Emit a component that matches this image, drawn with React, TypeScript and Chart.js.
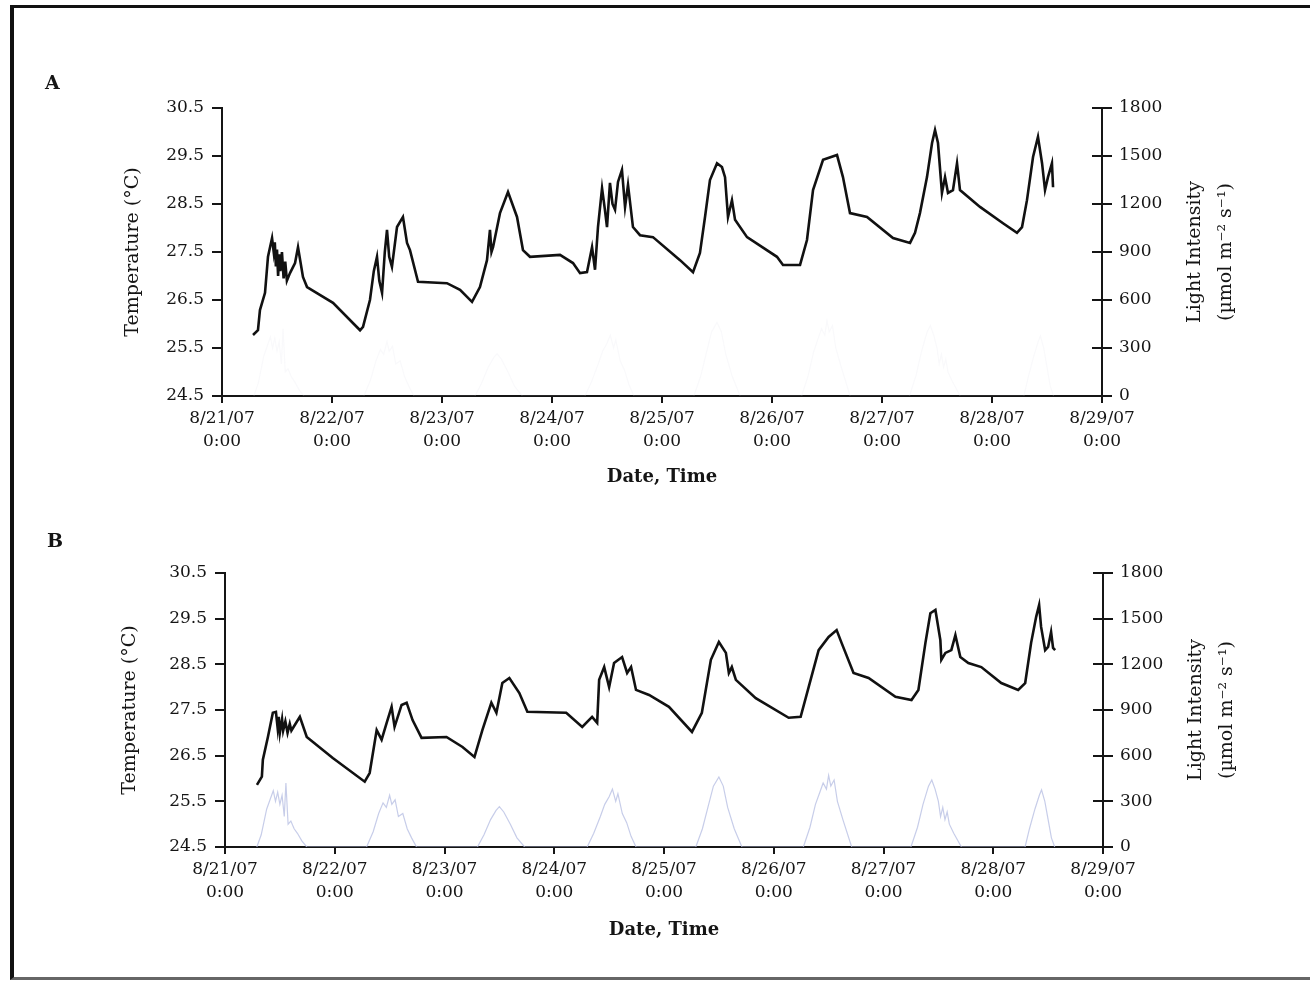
import React, { useEffect, useRef } from "react";
import { Chart, registerables } from "chart.js";

Chart.register(...registerables);

const DATE_LABELS = ["8/21/07", "8/22/07", "8/23/07", "8/24/07", "8/25/07", "8/26/07", "8/27/07", "8/28/07", "8/29/07"];
const TIME_LABEL = "0:00";
const TEMP_TICKS = ["24.5", "25.5", "26.5", "27.5", "28.5", "29.5", "30.5"];
const LIGHT_TICKS = ["0", "300", "600", "900", "1200", "1500", "1800"];
const LEFT_TITLE = "Temperature (°C)";
const RIGHT_TITLE = ["Light Intensity", "(µmol m⁻² s⁻¹)"];
const X_TITLE = "Date, Time";

// days since 8/21/07 0:00
const A_TIME = [
  0.282, 0.327, 0.345, 0.391, 0.418, 0.455, 0.47, 0.48, 0.49, 0.5, 0.51, 0.52, 0.53, 0.545, 0.56, 0.575, 0.59,
  0.618, 0.664, 0.691, 0.736, 0.773, 1.009, 1.255, 1.282, 1.345, 1.38, 1.409, 1.43, 1.455, 1.48, 1.5, 1.52, 1.545, 1.591,
  1.645, 1.682, 1.709, 1.782, 2.045, 2.164, 2.273, 2.345, 2.409, 2.436, 2.45, 2.464, 2.527, 2.6, 2.682, 2.736, 2.8,
  3.073, 3.191, 3.255, 3.318, 3.364, 3.391, 3.418, 3.455, 3.48, 3.5, 3.527, 3.55, 3.573, 3.6, 3.636, 3.664,
  3.691, 3.736, 3.8, 3.918, 4.164, 4.282, 4.345, 4.391, 4.436, 4.5, 4.545, 4.573, 4.6, 4.636, 4.664, 4.773,
  5.045, 5.1, 5.255, 5.318, 5.373, 5.464, 5.591, 5.645, 5.709, 5.864, 6.1, 6.255, 6.3, 6.345, 6.409, 6.455,
  6.482, 6.509, 6.545, 6.573, 6.6, 6.645, 6.682, 6.709, 6.891, 7.1, 7.227, 7.273, 7.318, 7.373, 7.418, 7.455,
  7.482, 7.509, 7.545, 7.555,
];
const A_TEMP = [
  25.77, 25.87, 26.29, 26.65, 27.4, 27.79, 27.5, 27.7, 27.2, 27.55, 27.0, 27.45, 27.1, 27.5, 26.95, 27.3, 26.9,
  27.06, 27.27, 27.6, 26.98, 26.77, 26.44, 25.87, 25.94, 26.5, 27.1, 27.4, 26.9, 26.65, 27.5, 27.96, 27.4, 27.19, 28.02,
  28.23, 27.69, 27.54, 26.88, 26.85, 26.71, 26.46, 26.77, 27.33, 27.96, 27.5, 27.6, 28.31, 28.75, 28.23, 27.54, 27.4,
  27.44, 27.27, 27.06, 27.08, 27.6, 27.13, 28.02, 28.83, 28.4, 28.02, 28.94, 28.5, 28.38, 28.96, 29.21, 28.44,
  28.9, 28.02, 27.85, 27.81, 27.33, 27.08, 27.48, 28.23, 29.0, 29.35, 29.27, 29.06, 28.23, 28.58, 28.17, 27.81,
  27.4, 27.23, 27.23, 27.75, 28.79, 29.42, 29.52, 29.06, 28.31, 28.23, 27.79, 27.69, 27.9, 28.31, 29.06, 29.77,
  30.04, 29.77, 28.73, 29.06, 28.73, 28.79, 29.35, 28.79, 28.44, 28.1, 27.9, 28.02, 28.58, 29.48, 29.9, 29.35,
  28.79, 29.06, 29.35, 28.85,
];

const B_TIME = [
  0.291, 0.336, 0.345, 0.391, 0.436, 0.464, 0.48, 0.49, 0.5, 0.52, 0.53, 0.55, 0.57, 0.59, 0.605, 0.682, 0.745,
  0.982, 1.273, 1.318, 1.382, 1.427, 1.473, 1.518, 1.545, 1.609, 1.655, 1.709, 1.791, 2.018, 2.164, 2.273,
  2.345, 2.427, 2.473, 2.527, 2.591, 2.682, 2.755, 3.109, 3.255, 3.345, 3.391, 3.409, 3.455, 3.5, 3.545, 3.618,
  3.664, 3.7, 3.745, 3.864, 4.045, 4.255, 4.345, 4.427, 4.5, 4.564, 4.591, 4.618, 4.655, 4.836, 5.136, 5.245,
  5.318, 5.409, 5.5, 5.573, 5.618, 5.727, 5.864, 6.109, 6.255, 6.318, 6.382, 6.427, 6.473, 6.518, 6.527, 6.564,
  6.618, 6.655, 6.7, 6.773, 6.891, 7.073, 7.227, 7.291, 7.345, 7.391, 7.418, 7.436, 7.473, 7.5, 7.527, 7.545,
  7.564,
];
const B_TEMP = [
  25.86, 26.04, 26.41, 26.91, 27.44, 27.46, 27.1, 27.35, 27.0, 27.3, 27.05, 27.25, 27.0, 27.2, 27.05, 27.35, 26.91,
  26.45, 25.93, 26.12, 27.06, 26.85, 27.22, 27.57, 27.13, 27.61, 27.66, 27.28, 26.89, 26.91, 26.69, 26.47,
  27.06, 27.66, 27.44, 28.09, 28.2, 27.87, 27.46, 27.44, 27.13, 27.35, 27.22, 28.16, 28.44, 28.0, 28.53, 28.66,
  28.31, 28.44, 27.94, 27.83, 27.57, 27.02, 27.44, 28.6, 28.99, 28.75, 28.31, 28.44, 28.16, 27.76, 27.33, 27.35,
  28.0, 28.81, 29.1, 29.25, 28.97, 28.31, 28.2, 27.79, 27.72, 27.94, 28.97, 29.62, 29.69, 29.03, 28.6, 28.75,
  28.81, 29.14, 28.66, 28.53, 28.44, 28.09, 27.94, 28.09, 28.97, 29.54, 29.8, 29.32, 28.81, 28.88, 29.21, 28.86,
  28.81,
];

const LIGHT_TIME = [
  0.29, 0.33, 0.38, 0.42, 0.44, 0.46, 0.48, 0.5, 0.52, 0.54, 0.555, 0.575, 0.6, 0.63, 0.66, 0.7, 0.745,
  1.29, 1.35, 1.4, 1.44, 1.47, 1.5, 1.52, 1.55, 1.58, 1.62, 1.66, 1.7, 1.745,
  2.3, 2.36, 2.42, 2.47, 2.5, 2.54, 2.6, 2.66, 2.73,
  3.3, 3.36, 3.42, 3.46, 3.5, 3.53, 3.56, 3.58, 3.62, 3.66, 3.7, 3.745,
  4.29, 4.35, 4.4, 4.45, 4.5, 4.54, 4.58, 4.64, 4.71,
  5.27, 5.33, 5.38, 5.42, 5.45, 5.48, 5.5, 5.52, 5.55, 5.58, 5.63, 5.71,
  6.25, 6.31, 6.36, 6.41, 6.44, 6.47, 6.5, 6.52, 6.54, 6.56, 6.58, 6.6, 6.64, 6.71,
  7.29, 7.33, 7.38, 7.42, 7.44, 7.47, 7.5, 7.53, 7.56,
];
const LIGHT_VALUE = [
  0, 80, 250, 330, 370, 300, 360, 280, 340, 200, 420, 150, 170, 120, 90, 40, 0,
  0, 100, 220, 290, 260, 340, 280, 310, 200, 220, 120, 60, 0,
  0, 80, 180, 240, 265, 230, 150, 60, 0,
  0, 90, 200, 280, 330, 380, 300, 350, 220, 160, 70, 0,
  0, 120, 260, 400, 460, 400, 260, 120, 0,
  0, 130, 280, 360, 420, 380, 470, 400, 440, 300, 180, 0,
  0, 130, 280, 400, 440, 380, 300, 200, 260, 180, 230, 150, 90, 0,
  0, 120, 250, 340, 375, 300, 180, 60, 0,
];

const FONT = '"DejaVu Serif", "Liberation Serif", serif';
const INK = "#151515";

type PanelCfg = {
  letter: string;
  top: number;
  height: number;
  plotLeft: number;
  plotRight: number;
  plotTop: number;
  plotBottom: number;
  xAxisH: number;
  leftTitlePad: number;
  time: number[];
  temp: number[];
  lightColor: string;
  letterTop: number;
  letterLeft: number;
};

const PANELS: PanelCfg[] = [
  {
    letter: "A", top: 0, height: 500, plotLeft: 222, plotRight: 1102, plotTop: 108, plotBottom: 396,
    xAxisH: 92, leftTitlePad: 10, time: A_TIME, temp: A_TEMP, lightColor: "rgba(225,225,235,0.2)",
    letterTop: 71, letterLeft: 45,
  },
  {
    letter: "B", top: 500, height: 484, plotLeft: 225, plotRight: 1103, plotTop: 73, plotBottom: 347,
    xAxisH: 94, leftTitlePad: 4, time: B_TIME, temp: B_TEMP, lightColor: "rgba(185,192,228,0.8)",
    letterTop: 529, letterLeft: 47,
  },
];

const extrasPlugin = {
  id: "extras",
  afterDraw(chart: any) {
    const { ctx, chartArea } = chart;
    const yR = chart.scales.yR;
    ctx.save();
    ctx.strokeStyle = INK;
    ctx.lineWidth = 2;
    yR.ticks.forEach((t: any) => {
      const y = Math.round(yR.getPixelForValue(t.value));
      ctx.beginPath();
      ctx.moveTo(chartArea.right - 10, y);
      ctx.lineTo(chartArea.right, y);
      ctx.stroke();
    });
    ctx.fillStyle = INK;
    ctx.font = `19px ${FONT}`;
    ctx.textAlign = "center";
    ctx.textBaseline = "middle";
    const cy = (chartArea.top + chartArea.bottom) / 2;
    RIGHT_TITLE.forEach((line, i) => {
      ctx.save();
      ctx.translate(chartArea.right + 93 + i * 31, cy);
      ctx.rotate(-Math.PI / 2);
      ctx.fillText(line, 0, 0);
      ctx.restore();
    });
    ctx.restore();
  },
};

function Panel({ cfg }: { cfg: PanelCfg }) {
  const ref = useRef<HTMLCanvasElement | null>(null);
  useEffect(() => {
    if (!ref.current) return;
    const W = 1310;
    const leftW = 110;
    const rightW = 150;
    const tickFont = { family: FONT, size: 17 };
    const chart = new Chart(ref.current, {
      type: "line",
      data: {
        datasets: [
          {
            label: "Temperature",
            data: cfg.time.map((t, i) => ({ x: t, y: cfg.temp[i] })),
            borderColor: "#111",
            borderWidth: 2.6,
            pointRadius: 0,
            tension: 0,
            yAxisID: "y",
          },
          {
            label: "Light",
            data: LIGHT_TIME.map((t, i) => ({ x: t, y: LIGHT_VALUE[i] })),
            borderColor: cfg.lightColor,
            borderWidth: 1.2,
            pointRadius: 0,
            tension: 0,
            yAxisID: "yR",
          },
        ],
      },
      options: {
        animation: false,
        responsive: false,
        layout: {
          padding: {
            left: cfg.plotLeft - leftW,
            right: W - cfg.plotRight - rightW,
            top: cfg.plotTop,
            bottom: cfg.height - cfg.plotBottom - cfg.xAxisH,
          },
        },
        plugins: { legend: { display: false }, tooltip: { enabled: false } },
        scales: {
          x: {
            type: "linear",
            min: 0,
            max: 8,
            afterFit: (s: any) => { s.height = cfg.xAxisH; },
            ticks: {
              stepSize: 1,
              autoSkip: false,
              maxRotation: 0,
              padding: 4,
              color: INK,
              font: { ...tickFont, lineHeight: 1.35 },
              callback: (_v: any, i: number) => [DATE_LABELS[i], TIME_LABEL],
            },
            grid: { display: true, drawOnChartArea: false, drawTicks: true, tickLength: 7, color: INK, lineWidth: 2 },
            border: { display: true, color: INK, width: 2 },
            title: {
              display: true,
              text: X_TITLE,
              color: INK,
              font: { family: FONT, size: 18, weight: "bold" },
              padding: { top: 0, bottom: 0 },
            },
          },
          y: {
            type: "linear",
            position: "left",
            min: 24.5,
            max: 30.5,
            afterFit: (s: any) => { s.width = leftW; },
            ticks: {
              stepSize: 1,
              padding: 8,
              color: INK,
              font: tickFont,
              callback: (_v: any, i: number) => TEMP_TICKS[i],
            },
            grid: { display: true, drawOnChartArea: false, drawTicks: true, tickLength: 10, color: INK, lineWidth: 2 },
            border: { display: true, color: INK, width: 2 },
            title: {
              display: true,
              text: LEFT_TITLE,
              color: INK,
              font: { family: FONT, size: 19 },
              padding: { top: cfg.leftTitlePad, bottom: 0 },
            },
          },
          yR: {
            type: "linear",
            position: "right",
            min: 0,
            max: 1800,
            afterFit: (s: any) => { s.width = rightW; },
            ticks: {
              stepSize: 300,
              padding: 7,
              color: INK,
              font: tickFont,
              callback: (_v: any, i: number) => LIGHT_TICKS[i],
            },
            grid: { display: true, drawOnChartArea: false, drawTicks: true, tickLength: 10, color: INK, lineWidth: 2 },
            border: { display: true, color: INK, width: 2 },
          },
        },
      } as any,
      plugins: [extrasPlugin],
    });
    return () => chart.destroy();
  }, [cfg]);

  return (
    <>
      <canvas
        ref={ref}
        width={1310}
        height={cfg.height}
        style={{ position: "absolute", left: 0, top: cfg.top, width: 1310, height: cfg.height, display: "block" }}
      />
      <div
        style={{
          position: "absolute",
          left: cfg.letterLeft,
          top: cfg.letterTop,
          fontFamily: FONT,
          fontWeight: "bold",
          fontSize: 19,
          lineHeight: "22px",
          color: INK,
        }}
      >
        {cfg.letter}
      </div>
    </>
  );
}

export default function App() {
  return (
    <div style={{ position: "absolute", left: 0, top: 0, width: 1310, height: 984, background: "#fff", overflow: "hidden" }}>
      <div
        style={{
          position: "absolute",
          left: 10,
          top: 5,
          width: 1320,
          height: 975,
          borderLeft: "4px solid #111",
          borderTop: "3px solid #111",
          borderBottom: "3px solid #666",
          boxSizing: "border-box",
        }}
      />
      {PANELS.map((p) => (
        <Panel key={p.letter} cfg={p} />
      ))}
    </div>
  );
}
